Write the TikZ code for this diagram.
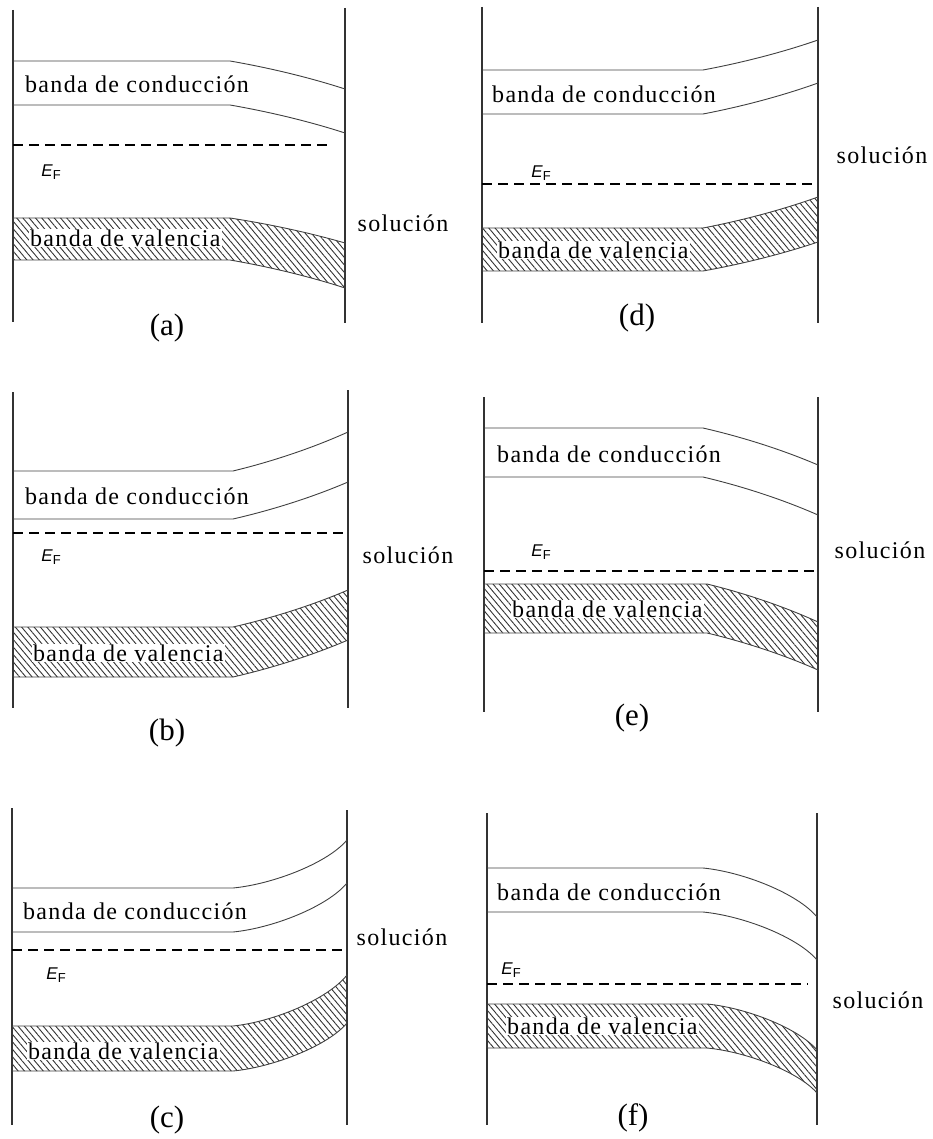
\documentclass[tikz,border=0pt]{standalone}
\usepackage{fontspec}
\setmainfont{Liberation Serif}
\newfontfamily\bandafont{Liberation Serif}[LetterSpace=5.5]
\newfontfamily\efont{Liberation Sans}
\usetikzlibrary{patterns.meta}

% tramo curvo de un borde de banda, del codo (#1,#2) a la pared (#3,#4)
\newcommand\suave[4]{.. controls ({#1+0.35*(#3-#1)},{#2+0.25*(#4-#2)}) and ({#1+0.7*(#3-#1)},{#2+0.6*(#4-#2)}) .. (#3,#4)}
\newcommand\suaveinv[4]{.. controls ({#1+0.7*(#3-#1)},{#2+0.6*(#4-#2)}) and ({#1+0.35*(#3-#1)},{#2+0.25*(#4-#2)}) .. (#1,#2)}
\newcommand\fuerte[4]{.. controls ({#1+0.35*(#3-#1)},{#2+0.08*(#4-#2)}) and ({#1+0.83*(#3-#1)},{#2+0.52*(#4-#2)}) .. (#3,#4)}
\newcommand\fuerteinv[4]{.. controls ({#1+0.83*(#3-#1)},{#2+0.52*(#4-#2)}) and ({#1+0.35*(#3-#1)},{#2+0.08*(#4-#2)}) .. (#1,#2)}
\newcommand\EF{{\efont\fontsize{17}{17}\selectfont\textit{E}\raisebox{-0.4ex}{\fontsize{13}{13}\selectfont F}}}

\tikzset{
    pared/.style={line width=1.4pt, black!80},
    borde/.style={line width=0.9pt, black!75},
    fermi/.style={line width=1.3pt, dash pattern=on 10pt off 6pt},
    valencia/.style={borde, pattern={Lines[angle=-50,distance=4.8pt,line width=0.9pt]}, pattern color=black!80},
    banda/.style={font=\bandafont\fontsize{24}{26}\selectfont, inner sep=1pt, anchor=west},
    sol/.style={font=\bandafont\fontsize{24}{26}\selectfont},
    rotulo/.style={font=\fontsize{31}{33}\selectfont},
    nivel/.style={inner sep=0pt},
}

\begin{document}
\begin{tikzpicture}[x=1pt, y=-1pt]
    \useasboundingbox (0,0) rectangle (932,1139);

    % (a)
    \draw[pared] (13,10) -- (13,322);
    \draw[pared] (345,8) -- (345,323);
    \draw[borde] (13,61) -- (230,61) \suave{230}{61}{345}{89};
    \draw[borde] (13,105) -- (230,105) \suave{230}{105}{345}{133};
    \draw[fermi] (13,145) -- (333,145);
    \draw[valencia] (13,218) -- (230,218) \suave{230}{218}{345}{243}
        -- (345,288) \suaveinv{230}{260}{345}{288} -- (13,260) -- cycle;
    \node[banda] (ca) at (24,84) {banda de conducción};
    \node[banda, fill=white] (va) at (29,238) {banda de valencia};
    \node[nivel] (efa) at (51,172) {\EF};
    \node[sol] (sola) at (403,223) {solución};
    \node[rotulo] (ra) at (167,328) {(a)};

    % (b)
    \draw[pared] (13,392) -- (13,708);
    \draw[pared] (348,390) -- (348,708);
    \draw[borde] (13,471) -- (233,471) \suave{233}{471}{348}{432};
    \draw[borde] (13,519) -- (233,519) \suave{233}{519}{348}{482};
    \draw[fermi] (13,533) -- (348,533);
    \draw[valencia] (13,627) -- (233,627) \suave{233}{627}{348}{590}
        -- (348,640) \suaveinv{233}{677}{348}{640} -- (13,677) -- cycle;
    \node[banda] (cb) at (24,496) {banda de conducción};
    \node[banda, fill=white] (vb) at (32,653) {banda de valencia};
    \node[nivel] (efb) at (51,557) {\EF};
    \node[sol] (solb) at (408,555) {solución};
    \node[rotulo] (rb) at (167,733) {(b)};

    % (c)
    \draw[pared] (12,808) -- (12,1125);
    \draw[pared] (347,810) -- (347,1125);
    \draw[borde] (12,888) -- (233,888) \fuerte{233}{888}{347}{840};
    \draw[borde] (12,932) -- (233,932) \fuerte{233}{932}{347}{883};
    \draw[fermi] (12,950) -- (347,950);
    \draw[valencia] (12,1026) -- (233,1026) \fuerte{233}{1026}{347}{975}
        -- (347,1023) \fuerteinv{233}{1071}{347}{1023} -- (12,1071) -- cycle;
    \node[banda] (cc) at (22,911) {banda de conducción};
    \node[banda, fill=white] (vc) at (27,1051) {banda de valencia};
    \node[nivel] (efc) at (56,975) {\EF};
    \node[sol] (solc) at (402,937) {solución};
    \node[rotulo] (rc) at (167,1120) {(c)};

    % (d)
    \draw[pared] (482,7) -- (482,323);
    \draw[pared] (818,7) -- (818,323);
    \draw[borde] (482,70) -- (703,70) \suave{703}{70}{818}{40};
    \draw[borde] (482,114) -- (703,114) \suave{703}{114}{818}{83};
    \draw[fermi] (482,184) -- (818,184);
    \draw[valencia] (482,228) -- (703,228) \suave{703}{228}{818}{197}
        -- (818,242) \suaveinv{703}{271}{818}{242} -- (482,271) -- cycle;
    \node[banda] (cd) at (491,94) {banda de conducción};
    \node[banda, fill=white] (vd) at (497,250) {banda de valencia};
    \node[nivel] (efd) at (541,173) {\EF};
    \node[sol] (sold) at (882,155) {solución};
    \node[rotulo] (rd) at (637,318) {(d)};

    % (e)
    \draw[pared] (484,397) -- (484,712);
    \draw[pared] (818,397) -- (818,712);
    \draw[borde] (484,428) -- (703,428) \suave{703}{428}{818}{465};
    \draw[borde] (484,477) -- (703,477) \suave{703}{477}{818}{515};
    \draw[fermi] (484,571) -- (818,571);
    \draw[valencia] (484,584) -- (707,584) \suave{707}{584}{818}{622}
        -- (818,670) \suaveinv{707}{633}{818}{670} -- (484,633) -- cycle;
    \node[banda] (ce) at (496,454) {banda de conducción};
    \node[banda, fill=white] (ve) at (511,609) {banda de valencia};
    \node[nivel] (efe) at (541,552) {\EF};
    \node[sol] (sole) at (880,550) {solución};
    \node[rotulo] (re) at (632,718) {(e)};

    % (f)
    \draw[pared] (487,813) -- (487,1125);
    \draw[pared] (817,813) -- (817,1125);
    \draw[borde] (487,868) -- (703,868) \fuerte{703}{868}{817}{917};
    \draw[borde] (487,912) -- (703,912) \fuerte{703}{912}{817}{960};
    \draw[fermi] (487,984) -- (808,984);
    \draw[valencia] (487,1004) -- (707,1004) \fuerte{707}{1004}{817}{1050}
        -- (817,1093) \fuerteinv{707}{1048}{817}{1093} -- (487,1048) -- cycle;
    \node[banda] (cf) at (496,892) {banda de conducción};
    \node[banda, fill=white] (vf) at (506,1026) {banda de valencia};
    \node[nivel] (eff) at (511,970) {\EF};
    \node[sol] (solf) at (878,1000) {solución};
    \node[rotulo] (rf) at (633,1118) {(f)};
\end{tikzpicture}
\end{document}
